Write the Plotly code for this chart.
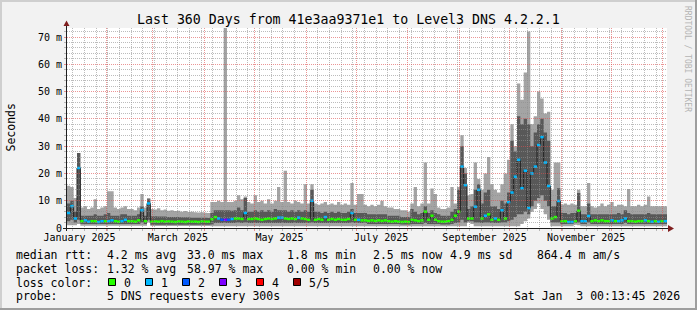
import plotly.graph_objects as go
from datetime import datetime, timedelta

# ---------------- data (milliseconds), one value per 2-day consolidation step ----------------
STEP_START = "2025-01-08 12:00"
STEP_DAYS = 2

smoke_min = [
    1.0, 1.0, 1.0, 1.5, 0.8, 0.8, 0.8, 0.8, 0.8, 0.8,
    0.8, 0.8, 0.8, 0.8, 0.8, 0.8, 0.8, 0.8, 0.8, 0.8,
    0.8, 0.8, 0.8, 0.8, 2.0, 0.7, 0.7, 0.7, 0.7, 0.7,
    0.7, 0.7, 0.7, 0.7, 0.7, 0.7, 0.7, 0.7, 0.7, 0.7,
    0.7, 0.7, 0.7, 0.6, 0.6, 0.6, 0.6, 0.6, 0.6, 0.6,
    0.6, 0.6, 0.6, 0.6, 0.6, 0.6, 0.6, 0.6, 0.6, 0.6,
    0.6, 0.6, 0.6, 0.6, 0.6, 0.6, 0.6, 0.6, 0.6, 0.6,
    0.6, 0.6, 0.6, 0.6, 0.6, 0.6, 0.6, 0.6, 0.6, 0.6,
    0.6, 0.6, 0.6, 0.6, 0.6, 0.6, 0.6, 0.6, 0.6, 0.6,
    0.6, 0.6, 0.6, 0.6, 0.6, 0.6, 0.6, 0.6, 0.6, 0.6,
    0.6, 0.6, 0.6, 0.6, 0.6, 0.6, 0.6, 0.6, 0.6, 0.6,
    0.6, 0.6, 0.6, 0.6, 0.6, 0.6, 0.6, 0.6, 0.6, 0.6,
    2.0, 1.5, 0.6, 0.6, 0.6, 0.6, 0.6, 0.6, 0.6, 0.6,
    0.6, 0.6, 0.6, 0.6, 0.6, 0.6, 1.5, 2.5, 3.5, 6.0,
    7.0, 9.0, 7.0, 5.0, 3.0, 0.6, 0.6, 0.6, 0.6, 0.6,
    0.6, 0.6, 1.2, 1.0, 0.6, 0.6, 0.6, 0.6, 0.6, 0.6,
    0.6, 0.6, 0.6, 0.6, 0.6, 0.6, 0.6, 0.6, 0.6, 0.6,
    0.6, 0.6, 0.6, 0.6, 0.6, 0.6, 0.6, 0.6, 0.6, 0.6,
]

smoke_p2 = [
    2.5, 3.0, 2.0, 3.0, 1.5, 1.5, 1.5, 1.5, 1.5, 1.5,
    1.5, 1.5, 1.5, 1.5, 1.5, 1.5, 1.5, 1.5, 1.5, 1.5,
    1.5, 1.5, 2.0, 1.5, 3.0, 1.2, 1.2, 1.2, 1.2, 1.2,
    1.2, 1.2, 1.2, 1.2, 1.2, 1.2, 1.2, 1.2, 1.2, 1.2,
    1.2, 1.2, 1.2, 1.3, 1.8, 1.8, 1.8, 1.8, 1.8, 1.8,
    1.8, 2.0, 1.8, 2.0, 1.8, 1.8, 1.8, 1.8, 1.8, 1.8,
    1.8, 1.8, 1.8, 1.8, 1.8, 1.8, 1.8, 1.8, 1.8, 1.8,
    1.8, 1.8, 1.8, 2.0, 1.8, 1.8, 1.8, 1.8, 1.8, 1.8,
    1.8, 1.8, 1.8, 1.8, 1.8, 2.0, 1.8, 1.8, 1.8, 1.8,
    1.5, 1.5, 1.5, 1.5, 1.5, 1.5, 1.5, 1.5, 1.5, 1.5,
    1.3, 1.3, 1.3, 1.5, 1.5, 1.5, 1.5, 1.8, 1.5, 1.5,
    1.5, 1.5, 1.3, 1.3, 1.3, 1.5, 1.8, 2.0, 3.0, 2.0,
    2.5, 2.5, 2.0, 2.0, 1.8, 2.0, 2.0, 1.8, 1.8, 1.8,
    2.0, 2.0, 2.5, 3.0, 4.0, 5.0, 5.0, 6.0, 5.0, 8.0,
    10.0, 11.0, 12.0, 10.0, 8.0, 2.0, 2.0, 2.0, 1.5, 1.5,
    1.5, 1.5, 1.8, 2.0, 1.5, 1.5, 2.0, 1.5, 1.5, 1.5,
    1.5, 1.5, 1.5, 1.5, 1.5, 1.5, 1.5, 1.8, 1.5, 1.5,
    1.5, 1.5, 1.5, 1.5, 1.5, 1.5, 1.5, 1.5, 1.5, 1.5,
]

median = [
    5.5, 8.0, 3.5, 22.0, 2.5, 2.8, 2.3, 2.5, 2.5, 2.2,
    2.5, 2.5, 2.5, 2.8, 2.5, 2.3, 2.5, 3.0, 2.5, 2.5,
    2.3, 2.8, 6.5, 2.5, 9.0, 2.3, 2.4, 2.3, 2.5, 2.3,
    2.4, 2.3, 2.2, 2.4, 2.3, 2.2, 2.4, 2.3, 2.3, 2.2,
    2.4, 2.3, 2.3, 3.2, 4.0, 3.5, 3.0, 3.0, 3.0, 3.3,
    3.5, 3.5, 3.3, 5.5, 3.3, 3.3, 3.5, 3.3, 3.0, 3.3,
    3.5, 3.3, 3.5, 3.8, 3.8, 3.5, 3.3, 3.5, 3.3, 3.8,
    3.5, 3.3, 3.0, 10.0, 3.0, 3.3, 3.0, 4.0, 3.0, 3.3,
    3.0, 3.3, 3.0, 3.0, 3.3, 5.5, 3.0, 3.0, 2.8, 2.8,
    2.6, 2.8, 2.6, 2.8, 2.6, 2.8, 2.5, 2.3, 2.5, 2.3,
    2.2, 2.3, 2.2, 3.0, 2.8, 2.5, 2.8, 6.0, 3.0, 4.5,
    3.0, 2.5, 2.3, 2.3, 2.5, 3.0, 4.5, 6.0, 22.5, 15.7,
    3.5, 3.5, 7.8, 14.0, 3.5, 4.5, 5.0, 3.0, 3.5, 3.0,
    6.5, 3.5, 9.5, 13.0, 18.8, 25.0, 14.6, 21.0, 7.3, 20.0,
    22.5, 30.4, 33.3, 24.0, 15.4, 3.5, 4.0, 9.9, 2.5, 2.5,
    2.2, 2.2, 2.5, 6.3, 2.5, 2.5, 4.4, 2.5, 2.8, 2.5,
    2.8, 2.5, 2.5, 2.8, 2.5, 2.5, 2.8, 3.5, 2.5, 2.5,
    2.3, 2.5, 2.5, 2.8, 2.5, 2.3, 2.5, 2.3, 2.5, 2.5,
]

smoke_p4 = [
    9.0, 10.0, 6.0, 27.5, 4.5, 4.5, 4.5, 4.5, 5.0, 4.5,
    4.5, 5.0, 5.5, 4.5, 4.5, 4.5, 5.0, 5.0, 4.5, 4.5,
    4.5, 5.0, 8.0, 4.5, 10.5, 4.3, 4.3, 4.2, 4.2, 4.2,
    4.0, 4.0, 4.0, 4.0, 3.9, 3.9, 3.9, 3.8, 3.8, 3.8,
    3.8, 3.8, 3.7, 5.5, 6.5, 6.5, 6.5, 6.5, 6.5, 6.3,
    6.5, 7.5, 6.5, 11.0, 6.0, 6.0, 6.5, 6.0, 6.5, 6.0,
    6.5, 6.0, 7.0, 6.5, 6.5, 6.5, 6.0, 6.5, 6.0, 6.5,
    6.0, 6.5, 6.0, 14.0, 6.0, 6.0, 5.5, 6.0, 5.5, 6.0,
    5.5, 6.0, 5.5, 5.5, 6.0, 7.0, 5.5, 5.5, 5.5, 5.5,
    5.0, 5.0, 5.0, 5.0, 5.0, 5.0, 4.5, 4.5, 4.5, 4.5,
    4.0, 4.0, 4.0, 7.0, 6.0, 5.0, 5.5, 8.0, 5.5, 6.5,
    5.5, 5.0, 4.5, 4.5, 4.5, 6.0, 7.0, 14.0, 30.0, 20.0,
    7.0, 8.0, 14.0, 16.0, 9.0, 13.0, 14.0, 8.0, 8.0, 7.0,
    10.0, 9.0, 13.0, 32.0, 28.0, 41.0, 38.0, 40.0, 38.0, 30.0,
    35.0, 38.0, 40.0, 35.0, 32.0, 8.0, 8.0, 14.6, 5.5, 5.5,
    5.0, 5.5, 5.5, 12.8, 5.0, 5.0, 9.0, 5.0, 5.0, 5.0,
    5.0, 5.0, 5.0, 5.0, 5.0, 5.5, 5.0, 6.5, 5.5, 5.0,
    5.0, 5.0, 5.0, 5.0, 5.5, 5.0, 5.0, 5.0, 5.0, 5.0,
]

smoke_max = [
    15.5, 15.0, 11.0, 27.5, 7.5, 8.0, 7.0, 7.5, 10.5, 7.0,
    7.5, 8.0, 13.5, 13.5, 7.5, 7.0, 7.5, 8.0, 7.0, 7.0,
    6.5, 7.5, 12.5, 7.5, 11.0, 7.0, 6.8, 7.2, 6.5, 6.8,
    6.3, 6.5, 6.2, 6.3, 6.0, 6.2, 5.9, 6.0, 5.8, 5.7,
    5.8, 5.6, 5.5, 9.5, 9.5, 10.0, 9.5, 95.0, 9.5, 9.5,
    10.0, 12.0, 10.5, 11.5, 9.5, 9.0, 12.0, 9.5, 10.0, 9.0,
    10.5, 9.0, 10.0, 15.0, 9.5, 21.0, 9.5, 9.0, 10.0, 9.5,
    9.0, 16.0, 9.0, 16.0, 9.0, 8.5, 9.0, 9.5, 8.5, 9.0,
    8.5, 9.5, 8.5, 9.0, 8.5, 16.5, 8.5, 12.5, 12.5, 8.5,
    8.0, 8.5, 8.0, 8.5, 10.0, 8.0, 7.5, 7.5, 7.0, 7.0,
    6.5, 6.5, 6.0, 9.0, 15.0, 8.0, 9.0, 24.0, 9.0, 14.5,
    12.5, 7.5, 7.0, 7.0, 7.5, 15.0, 9.0, 15.0, 34.0, 22.0,
    12.0, 12.5, 24.0, 18.0, 14.0, 20.0, 26.0, 16.0, 14.0, 13.0,
    16.0, 20.0, 25.0, 38.0, 30.0, 53.0, 47.0, 57.0, 72.0, 38.0,
    41.0, 50.0, 47.5, 42.0, 42.6, 14.0, 24.0, 24.0, 8.5, 9.0,
    8.5, 9.0, 8.5, 14.0, 8.0, 8.0, 16.5, 8.0, 7.5, 8.0,
    9.0, 8.0, 8.5, 9.5, 8.0, 8.5, 8.5, 8.0, 14.3, 8.0,
    8.0, 8.5, 8.0, 8.5, 11.5, 8.0, 8.0, 8.0, 8.0, 8.0,
]

loss = [
    1, 1, 1, 1, 0, 1, 1, 0, 0, 1,
    1, 0, 1, 1, 0, 0, 1, 1, 0, 0,
    0, 0, 1, 0, 1, 0, 0, 0, 0, 0,
    0, 0, 0, 0, 0, 0, 0, 0, 0, 0,
    0, 0, 0, 0, 0, 1, 2, 3, 2, 1,
    0, 0, 0, 1, 0, 0, 0, 0, 0, 0,
    0, 0, 0, 1, 1, 0, 0, 0, 0, 1,
    0, 0, 0, 1, 0, 0, 0, 1, 0, 0,
    0, 0, 0, 0, 0, 1, 0, 1, 0, 0,
    0, 0, 0, 0, 0, 0, 0, 0, 0, 0,
    0, 0, 0, 0, 0, 0, 0, 0, 0, 0,
    0, 0, 0, 0, 0, 0, 0, 0, 1, 1,
    0, 0, 1, 1, 0, 1, 0, 0, 1, 0,
    1, 0, 1, 1, 1, 1, 1, 1, 1, 1,
    1, 1, 1, 1, 1, 0, 0, 1, 0, 0,
    1, 1, 0, 0, 1, 1, 1, 0, 0, 0,
    0, 0, 0, 1, 0, 1, 1, 1, 0, 0,
    0, 0, 0, 1, 0, 1, 0, 1, 0, 1,
]

loss_colors = ["#26ff00", "#00b8ff", "#0059ff", "#7e00ff", "#ff0000", "#a00000"]
loss_labels = ["0", "1", "2", "3", "4", "5/5"]
month_labels = ["January 2025", "March 2025", "May 2025", "July 2025",
                "September 2025", "November 2025"]
y_tick_values = [0, 10, 20, 30, 40, 50, 60, 70]
y_tick_labels = ["0", "10 m", "20 m", "30 m", "40 m", "50 m", "60 m", "70 m"]
Y_MAX = 73.3

title_text = "Last 360 Days from 41e3aa9371e1 to Level3 DNS 4.2.2.1"
legend_rows = [
    (254.5, [(16, "median rtt:"), (107, "4.2 ms avg"), (187.5, "33.0 ms max"),
             (286.7, "1.8 ms min"), (372.7, "2.5 ms now"), (450, "4.9 ms sd"),
             (537.3, "864.4 m am/s")]),
    (268.5, [(16, "packet loss:"), (107, "1.32 % avg"), (187.5, "58.97 % max"),
             (286.7, "0.00 % min"), (372.7, "0.00 % now")]),
    (282.5, [(16, "loss color:")]),
    (296.3, [(16, "probe:"), (107, "5 DNS requests every 300s")]),
]
stamp_text = "Sat Jan\u00a0\u00a03 00:13:45 2026"

# ---------------- geometry helpers ----------------
W, H = 697, 310
PX0, PX1, PY0, PY1 = 67, 667, 28, 228   # plot area in pixels


def fx(x):
    return x / W


def fy(y):
    return 1 - y / H


MONO = "DejaVu Sans Mono"

start = datetime.strptime(STEP_START, "%Y-%m-%d %H:%M")
n = len(median)
edges = [start + timedelta(days=STEP_DAYS * i) for i in range(n + 1)]
end = edges[-1]


def steps(v):
    return list(v) + [v[-1]]


fig = go.Figure()
common = dict(mode="lines", hoverinfo="skip", showlegend=False)

# light smoke (ping 1 .. ping 5)
fig.add_trace(go.Scatter(x=edges, y=steps(smoke_min), line=dict(width=0, shape="hv"), **common))
fig.add_trace(go.Scatter(x=edges, y=steps(smoke_max), line=dict(width=0, shape="hv"),
                         fill="tonexty", fillcolor="#a4a4a4", **common))
# dark smoke (ping 2 .. ping 4)
fig.add_trace(go.Scatter(x=edges, y=steps(smoke_p2), line=dict(width=0, shape="hv"), **common))
fig.add_trace(go.Scatter(x=edges, y=steps(smoke_p4), line=dict(width=0, shape="hv"),
                         fill="tonexty", fillcolor="#585858", **common))
# thin median line
fig.add_trace(go.Scatter(x=edges, y=steps(median), line=dict(width=1, shape="hv", color="#202020"), **common))
# median coloured by loss
for lvl, col in enumerate(loss_colors):
    xs, ys = [], []
    for i in range(n):
        if loss[i] == lvl:
            xs += [edges[i], edges[i + 1], None]
            ys += [median[i], median[i], None]
    if xs:
        fig.add_trace(go.Scatter(x=xs, y=ys, line=dict(width=2.5, color=col),
                                 connectgaps=False, **common))

# empty trace to create the grid subplot (drawn above the data)
fig.add_trace(go.Scatter(x=[], y=[], xaxis="x2", yaxis="y2", **common))

grid_minor = "rgba(143,143,143,0.6)"
grid_major = "rgba(222,79,79,0.6)"
dom_x = [fx(PX0), fx(PX1)]
dom_y = [fy(PY1), fy(PY0)]

label_pos = [datetime.strptime(m, "%B %Y") + timedelta(days=15) for m in month_labels]

fig.update_layout(
    width=W, height=H,
    margin=dict(l=0, r=0, t=0, b=0, autoexpand=False),
    paper_bgcolor="#f2f2f2",
    plot_bgcolor="rgba(0,0,0,0)",
    hovermode=False,
    showlegend=False,
    xaxis=dict(domain=dom_x, anchor="y", type="date", range=[start, end],
               tickmode="array", tickvals=label_pos, ticktext=month_labels,
               showgrid=False, zeroline=False, showline=False, ticks="",
               automargin=False, ticklabelstandoff=2,
               tickfont=dict(family=MONO, size=10, color="#000000"),
               fixedrange=True),
    yaxis=dict(domain=dom_y, anchor="x", range=[0, Y_MAX],
               tickmode="array", tickvals=y_tick_values, ticktext=y_tick_labels,
               showgrid=False, zeroline=False, showline=False, ticks="",
               automargin=False, ticklabelstandoff=4,
               tickfont=dict(family=MONO, size=10, color="#000000"),
               fixedrange=True),
    xaxis2=dict(domain=dom_x, anchor="y2", type="date", range=[start, end],
                tick0="2025-01-01", dtick="M1", showticklabels=False, automargin=False,
                showgrid=True, gridcolor=grid_major, gridwidth=1, griddash="1px,1px",
                ticks="outside", ticklen=2, tickcolor=grid_major,
                minor=dict(tick0="2024-12-29", dtick=7 * 86400000, showgrid=True,
                           gridcolor=grid_minor, gridwidth=1, griddash="1px,1px",
                           ticks="outside", ticklen=2, tickcolor=grid_minor),
                zeroline=False, showline=False, fixedrange=True),
    yaxis2=dict(domain=dom_y, anchor="x2", range=[0, Y_MAX],
                tick0=0, dtick=10, showticklabels=False, automargin=False,
                showgrid=True, gridcolor=grid_major, gridwidth=1, griddash="1px,1px",
                ticks="outside", ticklen=2, tickcolor=grid_major,
                minor=dict(dtick=2, showgrid=True, gridcolor=grid_minor, gridwidth=1,
                           griddash="1px,1px", ticks="outside", ticklen=2,
                           tickcolor=grid_minor),
                zeroline=False, showline=False, fixedrange=True),
)

shapes = []
# white canvas
shapes.append(dict(type="rect", xref="paper", yref="paper", layer="below",
                   x0=fx(PX0), x1=fx(PX1), y0=fy(PY1), y1=fy(PY0),
                   fillcolor="#ffffff", line=dict(width=0)))
# 3d frame
for (x0, y0, x1, y1, c) in [(0, 0, W, 2, "#cfcfcf"), (0, 0, 2, H, "#cfcfcf"),
                            (0, H - 2, W, H, "#9e9e9e"), (W - 2, 0, W, H, "#9e9e9e")]:
    shapes.append(dict(type="rect", xref="paper", yref="paper", layer="above",
                       x0=fx(x0), x1=fx(x1), y0=fy(y1), y1=fy(y0),
                       fillcolor=c, line=dict(width=0)))
# axes lines
shapes.append(dict(type="line", xref="paper", yref="paper", layer="above",
                   x0=fx(63), x1=fx(669), y0=fy(228.5), y1=fy(228.5),
                   line=dict(color="#1f1f1f", width=1)))
shapes.append(dict(type="line", xref="paper", yref="paper", layer="above",
                   x0=fx(66.5), x1=fx(66.5), y0=fy(231), y1=fy(25),
                   line=dict(color="#1f1f1f", width=1)))


def P(x, y):
    return f"{fx(x):.5f},{fy(y):.5f}"


shapes.append(dict(type="path", xref="paper", yref="paper", layer="above",
                   path=f"M{P(668, 225)} L{P(674, 228.5)} L{P(668, 232)} Z",
                   fillcolor="#801f1f", line=dict(width=0)))
shapes.append(dict(type="path", xref="paper", yref="paper", layer="above",
                   path=f"M{P(63.5, 26)} L{P(66.5, 20.5)} L{P(69.5, 26)} Z",
                   fillcolor="#801f1f", line=dict(width=0)))

annotations = []


def text(x, y, s, size=11.5, anchor="left", color="#000000", angle=0):
    annotations.append(dict(xref="paper", yref="paper", x=fx(x), y=fy(y), text=s,
                            showarrow=False, xanchor=anchor, yanchor="middle",
                            textangle=angle, borderpad=0, borderwidth=0,
                            font=dict(family=MONO, size=size, color=color)))


text(348.5, 19.5, title_text, size=13.25, anchor="center")
text(10, 127.5, "Seconds", size=11.5, anchor="center", angle=-90)
text(687.5, 58.5, "RRDTOOL / TOBI OETIKER", size=8, anchor="center", color="#b4b4b4", angle=90)

for (yy, items) in legend_rows:
    for (xx, s) in items:
        text(xx, yy, s)

# loss colour legend boxes
for k, (col, lab) in enumerate(zip(loss_colors, loss_labels)):
    bx = 108 + 37 * k
    shapes.append(dict(type="rect", xref="paper", yref="paper", layer="above",
                       x0=fx(bx + 0.5), x1=fx(bx + 7.5), y0=fy(285.5), y1=fy(278.5),
                       fillcolor=col, line=dict(color="#000000", width=1)))
    text(bx + 16, 282.5, lab)

text(680, 296.3, stamp_text, anchor="right")

fig.update_layout(shapes=shapes, annotations=annotations)
fig.write_html("out.html")
